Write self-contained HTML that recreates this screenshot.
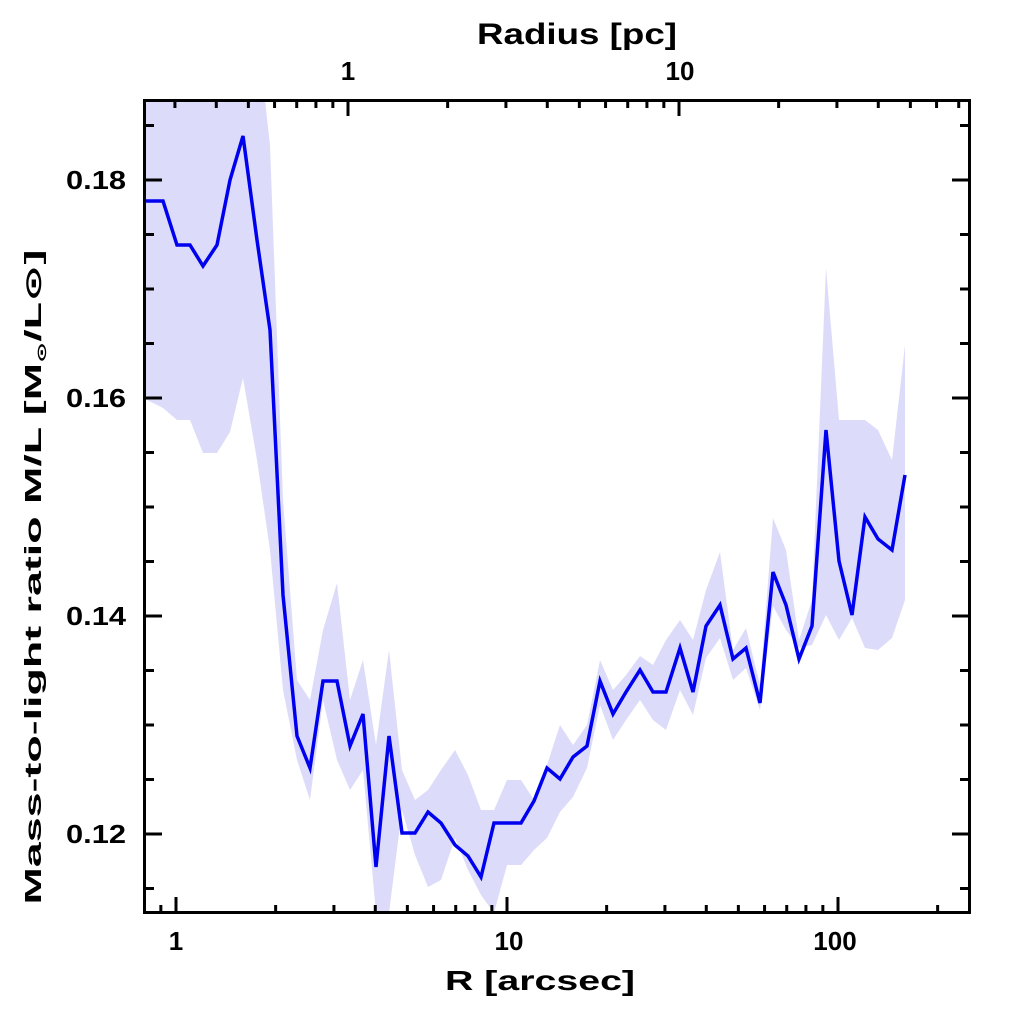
<!DOCTYPE html>
<html><head><meta charset="utf-8"><style>html,body{margin:0;padding:0;background:#fff}svg{display:block}text{font-family:"Liberation Sans","DejaVu Sans",sans-serif;font-weight:bold;fill:#000}</style></head>
<body>
<svg width="1024" height="1024" viewBox="0 0 1024 1024" xmlns="http://www.w3.org/2000/svg">
<defs><clipPath id="c"><rect x="143" y="100" width="827" height="813"/></clipPath></defs>
<g clip-path="url(#c)">
<polygon fill="#dcdcfa" points="143,100 265,100 270,145 283,500 297,680 310,700 323,630 337,583 350,700 363,660 376,745 389,650 402,770 415,800 428,790 441,770 455,750 468,775 481,810 494,810 507,780 521,780 534,800 547,765 560,725 573,745 587,725 600,660 613,690 626,675 640,656 653,665 666,640 680,620 693,640 706,590 720,552 733,650 746,628 760,685 773,518 786,550 799,640 812,600 826,268 839,420 852,420 865,420 878,430 892,460 905,345 905,600 892,638 878,650 865,648 852,618 839,640 826,615 812,645 799,648 786,630 773,606 760,710 746,668 733,680 720,638 706,658 693,715 680,690 666,730 653,720 640,700 626,720 613,740 600,705 587,768 573,797 560,812 547,838 534,850 521,865 507,865 494,913 481,895 468,870 455,838 441,880 428,887 415,855 402,810 389,913 376,913 363,770 350,790 337,760 323,700 310,800 297,760 283,690 270,550 257,460 243,378 230,432 217,453 203,453 190,420 177,420 163,408 143,398"/>
<polyline fill="none" stroke="#0000f0" stroke-width="3.5" stroke-linejoin="miter" points="143,201 163,201 177,245 190,245 203,266 217,245 230,180 243,136 257,240 270,330 283,595 297,736 310,768 323,681 337,681 350,746 363,714 376,867 389,736 402,833 415,833 428,812 441,823 455,845 468,856 481,877 494,823 507,823 521,823 534,801 547,768 560,779 573,757 587,746 600,681 613,714 626,692 640,670 653,692 666,692 680,648 693,692 706,626 720,605 733,659 746,648 760,703 773,572 786,605 799,659 812,626 826,430 839,561 852,615 865,517 878,539 892,550 905,475"/>
</g>
<rect x="144.5" y="100.5" width="825" height="812" stroke="#000" stroke-width="3" fill="none"/>
<g stroke="#000" stroke-width="3" id="ticks"></g>
<text x="126" y="189" text-anchor="end" font-size="26" textLength="60" lengthAdjust="spacingAndGlyphs">0.18</text>
<text x="126" y="407" text-anchor="end" font-size="26" textLength="60" lengthAdjust="spacingAndGlyphs">0.16</text>
<text x="126" y="625" text-anchor="end" font-size="26" textLength="60" lengthAdjust="spacingAndGlyphs">0.14</text>
<text x="126" y="843" text-anchor="end" font-size="26" textLength="60" lengthAdjust="spacingAndGlyphs">0.12</text>
<text x="176" y="950" text-anchor="middle" font-size="26">1</text>
<text x="509" y="950" text-anchor="middle" font-size="26">10</text>
<text x="835" y="950" text-anchor="middle" font-size="26">100</text>
<text x="348" y="80" text-anchor="middle" font-size="26">1</text>
<text x="680" y="80" text-anchor="middle" font-size="26">10</text>
<text x="577" y="44" text-anchor="middle" font-size="30" textLength="200" lengthAdjust="spacingAndGlyphs">Radius [pc]</text>
<text x="540" y="990" text-anchor="middle" font-size="28" textLength="190" lengthAdjust="spacingAndGlyphs">R [arcsec]</text>
<text transform="translate(41,577) rotate(-90)" text-anchor="middle" font-size="23" textLength="655" lengthAdjust="spacingAndGlyphs">Mass-to-light ratio M/L [M<tspan font-size="13" dy="5">⊙</tspan><tspan dy="-5">/L⊙]</tspan></text>
</svg>
<script>
var g=document.getElementById('ticks'),s='';
function L(x1,y1,x2,y2){s+='<line x1="'+x1+'" y1="'+y1+'" x2="'+x2+'" y2="'+y2+'"/>';}
for(var d=-1;d<3;d++)for(var m=1;m<10;m++){var v=m*Math.pow(10,d);var x=176+331*Math.log10(v);if(x<146||x>968)continue;var len=m==1?16:8;L(x,913,x,913-len);}
for(var d=-1;d<2;d++)for(var m=1;m<10;m++){var v=m*Math.pow(10,d);var x=348+331*Math.log10(v);if(x<146||x>968)continue;var len=m==1?16:8;L(x,100,x,100+len);}
for(var i=-2;i<16;i++){var val=0.11+i*0.005;var y=834-(val-0.12)/0.02*218;if(y<102||y>911)continue;var mj=(Math.round(val*1000)%20==0)?17:9;L(145,y,145+mj,y);L(969,y,969-mj,y);}
g.innerHTML=s;
</script>
</body></html>
